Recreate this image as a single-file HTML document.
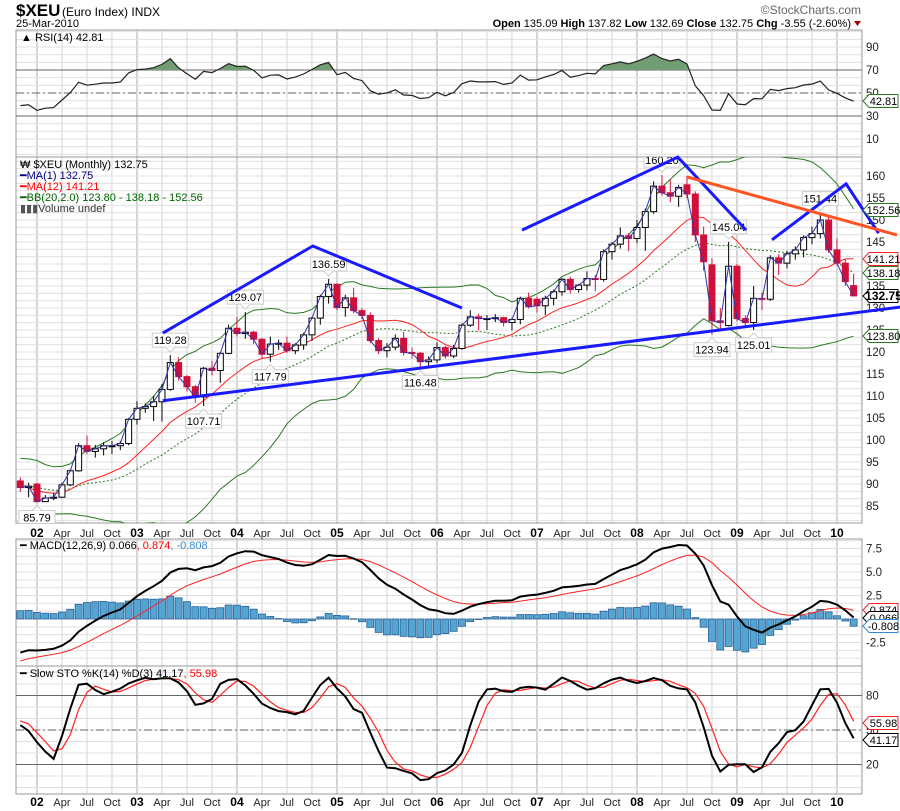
<!DOCTYPE html>
<html><head><meta charset="utf-8"><title>$XEU Euro Index</title>
<style>
html,body{margin:0;padding:0;background:#fff;}
svg{display:block;font-family:"Liberation Sans",Arial,sans-serif;}
</style></head>
<body>
<svg id="chart" width="900" height="811" viewBox="0 0 900 811" xmlns="http://www.w3.org/2000/svg">
<defs>
<clipPath id="clipRsi"><rect x="16" y="30" width="846" height="127"/></clipPath>
<clipPath id="clipPrice"><rect x="16" y="157" width="846" height="366"/></clipPath>
<clipPath id="clipMacd"><rect x="16" y="539" width="846" height="127"/></clipPath>
<clipPath id="clipSto"><rect x="16" y="666" width="846" height="128"/></clipPath>
</defs>
<g id="grid"></g>
<g id="layer"></g>
<g id="header">
<text x="16" y="16" font-size="17" font-weight="bold" fill="#000">$XEU</text>
<text x="62" y="16" font-size="12" fill="#000">(Euro Index)  INDX</text>
<text x="16" y="27" font-size="11" fill="#000">25-Mar-2010</text>
<text x="861" y="14" font-size="12" fill="#666" text-anchor="end">©StockCharts.com</text>
<text x="851" y="27" font-size="11" fill="#000" text-anchor="end"><tspan font-weight="bold">Open</tspan> 135.09  <tspan font-weight="bold">High</tspan> 137.82  <tspan font-weight="bold">Low</tspan> 132.69  <tspan font-weight="bold">Close</tspan> 132.75  <tspan font-weight="bold">Chg</tspan> -3.55 (-2.60%)</text>
<polygon points="854,21 861,21 857.5,26" fill="#a00"/>
</g>
</svg>
<script>
// ---------- data ----------
const histCloses = [116,113,110,108,106,106,107,107,106,106,102,101,97,96,95.5,91,93,95,92.5,88.5,87,84.5,87.5,94,93.5,92,88.5,88.5,85,84.5,87.5,91.5,91,88.8];
const opens = [90.7,89.2,90.0,86.0,86.8,87.0,89.8,93.0,98.7,97.4,98.0,98.7,98.7,99.2,104.7,107.2,107.6,108.7,111.5,117.6,114.4,112.1,109.8,116.3,115.8,119.7,125.4,124.2,124.5,122.9,119.5,121.8,122.0,120.3,121.6,123.9,127.7,132.6,135.4,130.1,132.3,129.4,128.3,122.6,120.3,121.1,123.1,119.9,119.7,117.8,118.2,121.0,119.1,120.8,126.1,128.0,127.6,127.6,127.8,126.7,127.4,132.2,132.0,130.5,132.2,133.7,136.5,134.2,135.2,136.7,136.5,142.8,144.5,146.4,145.8,148.3,151.9,157.7,156.2,155.4,158.0,155.9,146.6,139.8,127.1,126.0,139.5,127.6,126.7,132.2,132.0,141.4,140.2,142.3,143.2,146.0,146.9,150.0,143.2,140.2,135.09];
const highs = [91.5,90.3,90.3,87.5,88.0,90.3,93.3,99.3,101.0,98.9,99.5,99.8,99.8,105.0,108.8,108.3,110.0,112.7,119.28,118.8,114.8,112.5,116.6,118.0,120.0,126.2,128.0,129.07,124.8,123.2,123.5,122.8,123.5,122.0,124.4,128.0,133.0,136.59,135.6,133.0,134.6,130.0,129.0,123.2,122.0,124.0,124.6,121.0,120.0,119.0,122.2,121.4,121.6,126.5,129.5,128.7,128.4,128.6,128.0,127.8,132.6,133.5,132.6,132.8,134.2,136.8,137.1,135.5,138.3,137.5,143.3,145.0,148.3,147.0,150.0,152.6,158.8,160.2,159.3,158.0,160.0,156.5,148.5,141.3,130.0,145.04,140.0,128.3,135.0,133.5,142.0,142.2,143.0,144.0,146.5,148.5,151.44,150.8,145.8,141.0,137.82];
const lows = [88.2,87.0,85.79,86.3,86.3,86.8,89.5,92.8,96.8,96.0,96.5,96.8,97.7,98.8,103.5,106.2,104.3,104.2,111.2,113.5,111.0,108.5,107.71,114.7,113.0,119.5,123.5,123.0,121.8,118.5,117.79,120.5,119.8,119.5,120.5,122.5,126.2,131.0,129.5,128.0,128.8,127.5,122.0,119.5,118.8,120.4,119.2,118.5,116.48,116.9,117.5,118.5,118.6,120.5,125.7,124.9,125.0,126.8,125.8,124.9,126.3,129.9,129.0,128.4,130.6,132.8,133.3,133.5,134.0,133.8,136.0,141.0,143.5,142.9,144.8,143.0,151.4,155.5,154.0,153.0,155.0,145.0,138.5,123.94,124.8,125.8,127.0,125.5,125.01,129.5,131.6,137.5,139.0,141.0,141.5,144.5,145.8,142.5,139.7,135.0,132.69];
const closes = [89.2,89.5,86.0,86.8,87.0,89.8,93.0,98.7,97.4,98.0,98.7,98.7,99.2,104.7,107.2,107.6,108.7,111.5,117.6,114.4,112.1,109.8,116.3,115.8,119.7,125.4,124.2,124.5,122.9,119.5,121.8,122.0,120.3,121.6,123.9,127.7,132.6,135.4,130.1,132.3,129.4,128.3,122.6,120.3,121.1,123.1,119.9,119.7,117.8,118.2,121.0,119.1,120.8,126.1,128.0,127.6,127.6,127.8,126.7,127.4,132.2,130.3,130.5,132.2,133.7,136.5,134.2,135.2,136.7,136.5,142.8,144.5,146.4,145.8,148.3,151.9,157.7,156.2,155.4,157.4,155.9,146.6,140.5,127.1,126.7,139.5,127.6,126.7,132.2,132.0,141.4,140.2,142.3,143.2,146.0,146.9,150.0,143.2,140.2,136.0,132.75];
const yearLabels = ["02","03","04","05","06","07","08","09","10"];
const monthLabels = ["Apr","Jul","Oct"];
const priceTicks = [85,90,95,100,105,110,115,120,125,130,135,140,145,150,155,160];
const rsiTicks = [90,70,50,30,10];
const macdTicks = [7.5,5.0,2.5,-2.5];
const stoTicks = [80,50,20];
const extremeIdx = [2,18,22,27,30,37,48,77,83,85,88,96];
const extremeVal = [85.79,119.28,107.71,129.07,117.79,136.59,116.48,160.20,123.94,145.04,125.01,151.44];
const extremeHigh = [false,true,false,true,false,true,false,true,false,true,false,true];
// annotation trendlines: [monthIndex, price] pairs
const trendA = [[17.1,124.3],[35.1,144.1],[53.0,130.0]];
const trendB = [[60.2,147.7],[78.9,164.3],[87.1,147.7]];
const trendC = [[90.2,145.5],[99.1,158.2],[103.0,147.0]];
const supportLine = [[17.1,108.9],[105.6,130.2]];
const resistLine = [[80.0,159.8],[105.2,146.6]];

// ---------- scales ----------
const X0 = 20.3, MW = 100/12; // Nov 2001 at index 0
const xM = i => X0 + i*MW;
const yP = v => 176 + (160-v)*4.4;
const yR = v => 93 - (v-50)*1.15;
const yMa = v => 619 - v*9.4;
const yS = v => 730 - (v-50)*1.15;

// ---------- indicators ----------
const off = histCloses.length;
const allC = histCloses.concat(closes);
const allH = histCloses.concat(highs);
const allL = histCloses.concat(lows);
function sma(a,n){return a.map((_,i)=>{if(i<n-1)return null;let s=0;for(let k=i-n+1;k<=i;k++)s+=a[k];return s/n;});}
function ema(a,n){const k=2/(n+1);let out=[],p=a[0];a.forEach((v,i)=>{p=i?v*k+p*(1-k):v;out.push(p);});return out;}
const ma12 = sma(allC,12);
const bbMid = sma(allC,20);
const bbUp = [], bbLo = [];
allC.forEach((_,i)=>{if(i<19){bbUp.push(null);bbLo.push(null);return;}let m=bbMid[i],s=0;for(let k=i-19;k<=i;k++)s+=(allC[k]-m)**2;s=Math.sqrt(s/20);bbUp.push(m+2*s);bbLo.push(m-2*s);});
const e12=ema(allC,12), e26=ema(allC,26);
const macd = e12.map((v,i)=>v-e26[i]);
const sig = ema(macd,9);
const histo = macd.map((v,i)=>v-sig[i]);
const rsi = [];
(function(){let ag=0,al=0;for(let i=0;i<allC.length;i++){if(i===0){rsi.push(null);continue;}const d=allC[i]-allC[i-1];const g=Math.max(d,0),l=Math.max(-d,0);if(i<=14){ag+=g/14;al+=l/14;rsi.push(i===14?100-100/(1+ag/(al||1e-9)):null);}else{ag=(ag*13+g)/14;al=(al*13+l)/14;rsi.push(100-100/(1+ag/(al||1e-9)));}}})();
const rawK = allC.map((c,i)=>{if(i<13)return null;let hh=-1e9,ll=1e9;for(let k=i-13;k<=i;k++){hh=Math.max(hh,allH[k]);ll=Math.min(ll,allL[k]);}return (c-ll)/(hh-ll)*100;});
const sma3 = a=>a.map((v,i)=>(i<2||a[i-2]==null)?null:(a[i]+a[i-1]+a[i-2])/3);
const slowK = sma3(rawK), slowD = sma3(slowK);

// ---------- helpers ----------
const NS="http://www.w3.org/2000/svg";
const grid=document.getElementById('grid'), layer=document.getElementById('layer');
function mk(tag,attrs,parent){const e=document.createElementNS(NS,tag);for(const k in attrs)e.setAttribute(k,attrs[k]);(parent||layer).appendChild(e);return e;}
function seriesPath(arr,yf){let d="";for(let i=0;i<closes.length;i++){const v=arr[i+off];if(v==null)continue;d+=(d?"L":"M")+xM(i).toFixed(1)+","+yf(v).toFixed(1);}return d;}

// ---------- grid & frames ----------
const panels=[[30,157],[157,523],[539,666],[666,794]];
for(let q=-1;q<34;q++){const i=2+q*3;const x=xM(i);if(x<16||x>862)continue;const isYear=(q%4===0);
 panels.forEach(p=>{const l=mk('line',{x1:x,x2:x,y1:p[0],y2:p[1],stroke:isYear?'#aaa':'#d4d4d4','stroke-width':1},grid);
 
 });}
function hMinor(y0,y1,step,start){for(let y=start;y<y1;y+=step){if(y<=y0)continue;const l=mk('line',{x1:16,x2:862,y1:y,y2:y,stroke:'#e0e0e0','stroke-width':1},grid);
 
 }}
hMinor(30,157,23/3,yR(90)-23);
hMinor(157,523,22/3,yP(160)-44);
hMinor(539,666,23.5/3,yMa(7.5)-23.5/3);
hMinor(666,794,34.5/3,yS(80)-34.5);
panels.forEach((p,k)=>{const r=mk('rect',{x:16,y:p[0],width:846,height:p[1]-p[0],fill:'none',stroke:'#999','stroke-width':1},grid);
 
 });

function refLine(y,dash,name){const l=mk('line',{x1:16,x2:862,y1:y,y2:y,stroke:'#666','stroke-width':1});if(dash)l.setAttribute('stroke-dasharray','8,3,2,3');
 
 }
refLine(yR(70),false,'rsi-70-line');refLine(yR(30),false,'rsi-30-line');refLine(yR(50),true,'rsi-50-line');
refLine(yS(80),false,'sto-80-line');refLine(yS(20),false,'sto-20-line');refLine(yS(50),true,'sto-50-line');

// ---------- axis labels ----------
function axisLabel(txt,y,name){const t=mk('text',{x:866,y:y+4,'font-size':11.5,fill:'#222'});t.textContent=txt;
 
 }
rsiTicks.forEach(v=>axisLabel(String(v),yR(v),'rsi-tick-label'));
priceTicks.forEach(v=>axisLabel(String(v),yP(v),'price-tick-label'));
macdTicks.forEach(v=>axisLabel(v.toFixed(1),yMa(v),'macd-tick-label'));
stoTicks.forEach(v=>axisLabel(String(v),yS(v),'sto-tick-label'));
[537,806].forEach(by=>{
 yearLabels.forEach((yl,k)=>{const t=mk('text',{x:xM(2+12*k),y:by,'font-size':12,'font-weight':'bold','text-anchor':'middle',fill:'#000'});t.textContent=yl;
  
  });
 for(let k=0;k<9;k++)monthLabels.forEach((m,j)=>{const x=xM(2+12*k+3*(j+1));if(x>850)return;const t=mk('text',{x:x,y:by,'font-size':11,'text-anchor':'middle',fill:'#222'});t.textContent=m;
  
  });
});

// ---------- RSI ----------
const gR=mk('g',{'clip-path':'url(#clipRsi)'});


const cpR=mk('clipPath',{id:'rsiAbove'},document.querySelector('defs'));mk('rect',{x:16,y:30,width:846,height:yR(70)-30},cpR);
const rsiD=seriesPath(rsi,yR);
const fillR=mk('path',{d:rsiD+"L"+xM(closes.length-1)+","+yR(70)+"L"+xM(0)+","+yR(70)+"Z",fill:'#729d72','clip-path':'url(#rsiAbove)'},gR);


const lineR=mk('path',{d:rsiD,fill:'none',stroke:'#222','stroke-width':1.2},gR);



// ---------- Price ----------
const gP=mk('g',{'clip-path':'url(#clipPrice)'});


[[bbUp,'bb-upper-band',null],[bbLo,'bb-lower-band',null],[bbMid,'bb-middle-band','2,2']].forEach(s=>{const p=mk('path',{d:seriesPath(s[0],yP),fill:'none',stroke:'#2a7a22','stroke-width':1},gP);if(s[2])p.setAttribute('stroke-dasharray',s[2]);
 
 });
const maL=mk('path',{d:seriesPath(ma12,yP),fill:'none',stroke:'#f22','stroke-width':1},gP);


for(let i=0;i<closes.length;i++){const x=xM(i),o=opens[i],c=closes[i],up=c>=o;const col=up?'#000':'#d0103a';
 const w=mk('line',{x1:x,x2:x,y1:yP(highs[i]),y2:yP(lows[i]),stroke:col,'stroke-width':1},gP);
 
 
 const top=yP(Math.max(o,c)),bot=yP(Math.min(o,c));
 const b=mk('rect',{x:x-3,y:top,width:6,height:Math.max(1,bot-top),fill:up?'#fff':'#d0103a',stroke:col,'stroke-width':1},gP);
 
 }
const ma1=mk('path',{d:seriesPath(allC,yP),fill:'none',stroke:'#3333a8','stroke-width':1},gP);


extremeIdx.forEach((idx,k)=>{const x=xM(idx),v=extremeVal[k],hi=extremeHigh[k];const y=hi?yP(v)-15:yP(v)+15;
 const g=mk('g',{},gP);
 
 
 mk('rect',{x:x-18,y:y-7,width:36,height:14,fill:'#fff',stroke:'#ccc'},g);
 mk('polyline',{points:hi?`${x-5},${y+7} ${x},${y+12} ${x+5},${y+7}`:`${x-5},${y-7} ${x},${y-12} ${x+5},${y-7}`,fill:'#fff',stroke:'#ccc'},g);
 const t=mk('text',{x:x,y:y+4,'font-size':11,'text-anchor':'middle',fill:'#000'},g);t.textContent=v.toFixed(2);});
function annot(pts,col,w,name){const p=mk('polyline',{points:pts.map(q=>xM(q[0]).toFixed(1)+","+yP(q[1]).toFixed(1)).join(" "),fill:'none',stroke:col,'stroke-width':w});
 
 }
annot(trendA,'#1a1aff',3,'trendline-a');annot(trendB,'#1a1aff',3,'trendline-b');annot(trendC,'#1a1aff',3,'trendline-c');
annot(supportLine,'#1a1aff',3,'support-trendline');annot(resistLine,'#ff5522',3,'resistance-trendline');

// ---------- MACD ----------
const gM=mk('g',{'clip-path':'url(#clipMacd)'});


for(let i=0;i<closes.length;i++){const v=histo[i+off];const y0=yMa(0),y1=yMa(v);
 const r=mk('rect',{x:xM(i)-3.5,y:Math.min(y0,y1),width:7,height:Math.max(0.5,Math.abs(y1-y0)),fill:'#55a5d2',stroke:'#2a5f96','stroke-width':0.8},gM);
 
 }
const sgl=mk('path',{d:seriesPath(sig,yMa),fill:'none',stroke:'#f22','stroke-width':1},gM);


const mcl=mk('path',{d:seriesPath(macd,yMa),fill:'none',stroke:'#000','stroke-width':2},gM);



// ---------- Stochastic ----------
const gS=mk('g',{'clip-path':'url(#clipSto)'});


const dl=mk('path',{d:seriesPath(slowD,yS),fill:'none',stroke:'#f22','stroke-width':1.2},gS);


const kl=mk('path',{d:seriesPath(slowK,yS),fill:'none',stroke:'#000','stroke-width':2},gS);



// ---------- value tags ----------
function tag(txt,y,col,bold,name){const g=mk('g',{});
 
 
 mk('polygon',{points:`863,${y} 869,${y-6.5} 898,${y-6.5} 898,${y+6.5} 869,${y+6.5}`,fill:'#fff',stroke:col,'stroke-width':1},g);
 const t=mk('text',{x:883.5,y:y+4,'font-size':bold?12:11,'font-weight':bold?'bold':'normal','text-anchor':'middle',fill:'#000'},g);t.textContent=txt;}
tag('42.81',101,'#2a7a22',false,'rsi-value-tag');
tag('152.56',210,'#2a7a22',false,'bb-upper-tag');
tag('141.21',259,'#f22',false,'ma12-tag');
tag('138.18',273,'#2a7a22',false,'bb-middle-tag');
tag('132.75',296,'#000',true,'close-price-tag');
tag('123.80',336,'#2a7a22',false,'bb-lower-tag');
tag('0.874',610,'#f22',false,'macd-signal-tag');
tag('0.066',618,'#000',false,'macd-value-tag');
tag('-0.808',626,'#3a8ad0',false,'macd-histogram-tag');
tag('55.98',723,'#f22',false,'sto-d-tag');
tag('41.17',740,'#000',false,'sto-k-tag');

// ---------- legends ----------
function legend(x,y,parts,name){const t=mk('text',{x:x,y:y,'font-size':11,fill:'#000'});
 
 
 parts.forEach(p=>{const s=mk('tspan',{fill:p[1]},t);s.textContent=p[0];});}
legend(21,41,[['▲ RSI(14) 42.81','#000']],'rsi-legend');
legend(20,168,[['₩ $XEU (Monthly) 132.75','#000']],'price-legend');
legend(20,179,[['━','#000080'],['MA(1) 132.75','#000080']],'ma1-legend');
legend(20,190,[['━','#f00'],['MA(12) 141.21','#f00']],'ma12-legend');
legend(20,201,[['━','#006400'],['BB(20,2.0) 123.80 - 138.18 - 152.56','#006400']],'bb-legend');
legend(20,212,[['▮▮▮','#555'],['Volume undef','#333']],'volume-legend');
legend(20,549,[['━ ','#000'],['MACD(12,26,9) 0.066','#000'],[', 0.874','#f00'],[', -0.808','#3a8ad0']],'macd-legend');
legend(20,677,[['━ ','#000'],['Slow STO %K(14) %D(3) 41.17','#000'],[', 55.98','#f00']],'sto-legend');
</script>
</body></html>
